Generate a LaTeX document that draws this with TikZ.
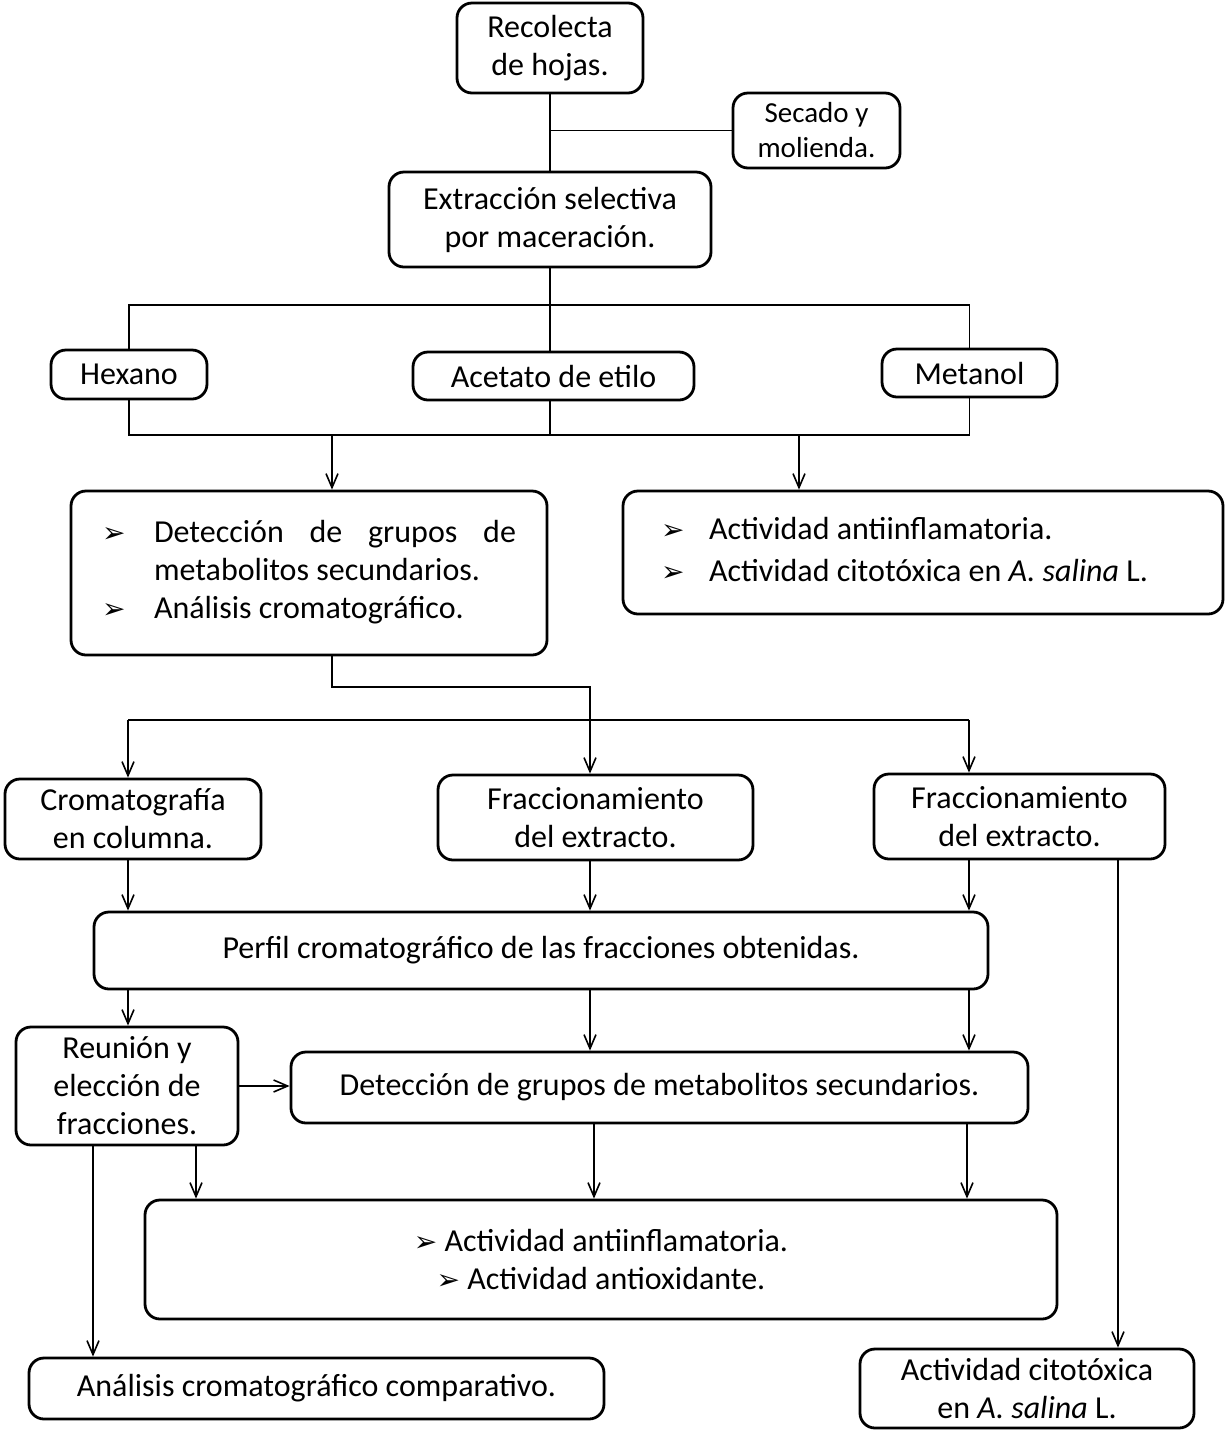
\documentclass[tikz,border=0pt]{standalone}
\usepackage{fontspec}
\setmainfont{Carlito}
\newfontfamily\symfont{DejaVu Sans}
\usetikzlibrary{arrows.meta}
\newcommand{\bul}{{\symfont\fontsize{14}{14}\selectfont ➢}}

\begin{document}
\begin{tikzpicture}[x=0.5pt,y=-0.5pt,
  box/.style={draw, line width=1.4pt, rounded corners=7.5pt, inner sep=0pt,
    align=center, font=\fontsize{16}{19}\selectfont},
  conn/.style={line width=0.8pt},
  arr/.style={conn, -{Straight Barb[length=7pt,width=6pt]}}]
\useasboundingbox (0,0) rectangle (1225,1431);

% --- boxes ---
\node[box, minimum width=93pt, minimum height=45pt] (rec) at (550,48) {Recolecta\\de hojas.};
\node[box, minimum width=83.5pt, minimum height=37.5pt, font=\fontsize{14.5}{17.5}\selectfont] (sec) at (816.5,130.5) {Secado y\\molienda.};
\node[box, minimum width=161pt, minimum height=47.5pt] (ext) at (550,219.5) {Extracción selectiva\\por maceración.};
\node[box, minimum width=78pt, minimum height=24.5pt] (hex) at (129,374.5) {Hexano};
\node[box, minimum width=140.5pt, minimum height=24pt] (ace) at (553.5,376) {Acetato de etilo};
\node[box, minimum width=87.5pt, minimum height=24pt] (met) at (969.5,373) {Metanol};

\node[box, minimum width=238pt, minimum height=82pt, align=left] (det1) at (309,573) {%
  \begin{tabular}{@{}p{26pt}@{}p{181pt}@{}}
  \bul & Detección\hfill de\hfill grupos\hfill de\\
       & metabolitos secundarios.\\
  \bul & Análisis cromatográfico.
  \end{tabular}};
\node[box, minimum width=300pt, minimum height=61.5pt, align=left] (act1) at (923,552.5) {%
  \begin{tabular}{@{}p{24pt}@{}p{238pt}@{}}
  \bul & Actividad antiinflamatoria.\\[2pt]
  \bul & Actividad citotóxica en \textit{A. salina} L.
  \end{tabular}};

\node[box, minimum width=128pt, minimum height=40pt] (cro) at (133,819) {Cromatografía\\en columna.};
\node[box, minimum width=157.5pt, minimum height=42.5pt] (fr1) at (595.5,817.5) {Fraccionamiento\\del extracto.};
\node[box, minimum width=145.5pt, minimum height=42.5pt] (fr2) at (1019.5,816.5) {Fraccionamiento\\del extracto.};

\node[box, minimum width=447pt, minimum height=38.5pt] (per) at (541,950.5) {Perfil cromatográfico de las fracciones obtenidas.};
\node[box, minimum width=111pt, minimum height=59pt] (reu) at (127,1086) {Reunión y\\elección de\\fracciones.};
\node[box, minimum width=368.5pt, minimum height=35.5pt] (det2) at (659.5,1087.5) {Detección de grupos de metabolitos secundarios.};
\node[box, minimum width=456pt, minimum height=59.5pt] (act2) at (601,1259.5) {\bul~Actividad antiinflamatoria.\\\bul~Actividad antioxidante.};
\node[box, minimum width=287.5pt, minimum height=30.5pt] (ana) at (316.5,1388.5) {Análisis cromatográfico comparativo.};
\node[box, minimum width=167pt, minimum height=39.5pt] (cit) at (1027,1388.5) {Actividad citotóxica\\en \textit{A. salina} L.};

% --- junction points and connector columns ---
\coordinate (top) at (550,305);
\coordinate (bot) at (550,435);
\coordinate (a1) at (332,435);
\coordinate (a2) at (799,435);
\coordinate (xA) at (128,720);
\coordinate (xB) at (590,687);
\coordinate (xC) at (969,720);
\coordinate (xD) at (594,0);
\coordinate (xE) at (967,0);
\coordinate (xF) at (196,0);
\coordinate (xG) at (93,0);
\coordinate (xH) at (1118,0);

% --- connectors ---
\draw[conn] (rec.south) -- (ext.north);
\draw[conn] (sec.west) -- (sec.west -| rec.south);
\draw[conn] (ext.south) -- (ext.south |- ace.north);
\draw[conn] (hex.north) |- (top) -| (met.north);
\draw[conn] (hex.south) |- (bot) -| (met.south);
\draw[conn] (ext.south |- ace.south) -- (bot);
\draw[arr] (a1) -- (a1 |- det1.north);
\draw[arr] (a2) -- (a2 |- act1.north);

\draw[arr] (a1 |- det1.south) |- (xB) -- (xB |- fr1.north);
\draw[conn] (xA) -- (xC);
\draw[arr] (xA) -- (xA |- cro.north);
\draw[arr] (xC) -- (xC |- fr2.north);

\draw[arr] (xA |- cro.south) -- (xA |- per.north);
\draw[arr] (xB |- fr1.south) -- (xB |- per.north);
\draw[arr] (xC |- fr2.south) -- (xC |- per.north);

\draw[arr] (xA |- per.south) -- (xA |- reu.north);
\draw[arr] (xB |- per.south) -- (xB |- det2.north);
\draw[arr] (xC |- per.south) -- (xC |- det2.north);
\draw[arr] (reu.east) -- (reu.east -| det2.west);

\draw[arr] (xD |- det2.south) -- (xD |- act2.north);
\draw[arr] (xE |- det2.south) -- (xE |- act2.north);
\draw[arr] (xF |- reu.south) -- (xF |- act2.north);
\draw[arr] (xG |- reu.south) -- (xG |- ana.north);
\draw[arr] (xH |- fr2.south) -- (xH |- cit.north);
\end{tikzpicture}
\end{document}
